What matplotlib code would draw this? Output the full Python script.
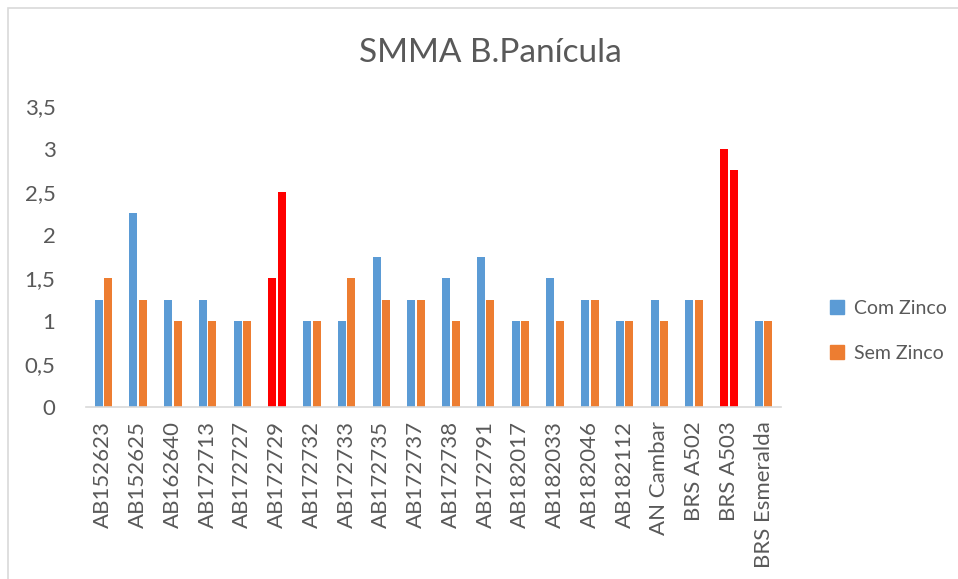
import matplotlib
matplotlib.use("Agg")
import matplotlib.pyplot as plt
import numpy as np
from matplotlib.patches import Rectangle, Patch

categories = ["AB152623", "AB152625", "AB162640", "AB172713", "AB172727",
              "AB172729", "AB172732", "AB172733", "AB172735", "AB172737",
              "AB172738", "AB172791", "AB182017", "AB182033", "AB182046",
              "AB182112", "AN Cambar", "BRS A502", "BRS A503", "BRS Esmeralda"]
com_zinco = [1.25, 2.25, 1.25, 1.25, 1, 1.5, 1, 1, 1.75, 1.25,
             1.5, 1.75, 1, 1.5, 1.25, 1, 1.25, 1.25, 3, 1]
sem_zinco = [1.5, 1.25, 1, 1, 1, 2.5, 1, 1.5, 1.25, 1.25,
             1, 1.25, 1, 1, 1.25, 1, 1, 1.25, 2.75, 1]
highlight = ["AB172729", "BRS A503"]
yticks = [0, 0.5, 1, 1.5, 2, 2.5, 3, 3.5]

blue = "#5B9BD5"
orange = "#ED7D31"
red = "#FF0000"
text_col = "#595959"

plt.rcParams['font.family'] = ['Lato', 'DejaVu Sans']

fig = plt.figure(figsize=(9.58, 5.79), dpi=100)
fig.patches.append(Rectangle((8/958, -0.1), 1.1, (579-8)/579 + 0.1,
                             transform=fig.transFigure, fill=False,
                             edgecolor="#D9D9D9", linewidth=1.2))
ax = fig.add_axes([86/958, (579-407)/579, (781-86)/958, (407-106)/579])

x = np.arange(len(categories))
w = 0.23
c1 = [red if c in highlight else blue for c in categories]
c2 = [red if c in highlight else orange for c in categories]
ax.bar(x - 0.135, com_zinco, w, color=c1)
ax.bar(x + 0.135, sem_zinco, w, color=c2)

ax.set_xlim(-0.5, len(categories) - 0.5)
ax.set_ylim(0, 3.5)
ax.set_yticks(yticks)
ax.set_yticklabels([str(t).replace(".", ",").replace(",0", "") for t in yticks],
                   fontsize=16, color=text_col)
ax.set_xticks(x)
ax.set_xticklabels(categories, rotation=90, fontsize=16, color=text_col)
ax.tick_params(axis="both", length=0)
ax.tick_params(axis="y", pad=22)
ax.tick_params(axis="x", pad=10)
for s in ["top", "right", "left"]:
    ax.spines[s].set_visible(False)
ax.spines["bottom"].set_color("#D9D9D9")
ax.spines["bottom"].set_linewidth(1.2)

fig.text(490/958, 1 - 53/579, "SMMA B.Panícula", ha="center", va="center",
         fontsize=24, color=text_col)

handles = [Patch(color=blue, label="Com Zinco"), Patch(color=orange, label="Sem Zinco")]
fig.legend(handles=handles, loc="center left", bbox_to_anchor=(812/958, 1 - 331/579),
           frameon=False, fontsize=14, labelcolor=text_col, handlelength=0.75,
           handleheight=0.75, labelspacing=1.45, handletextpad=0.5)

fig.savefig("out.png", dpi=100)
